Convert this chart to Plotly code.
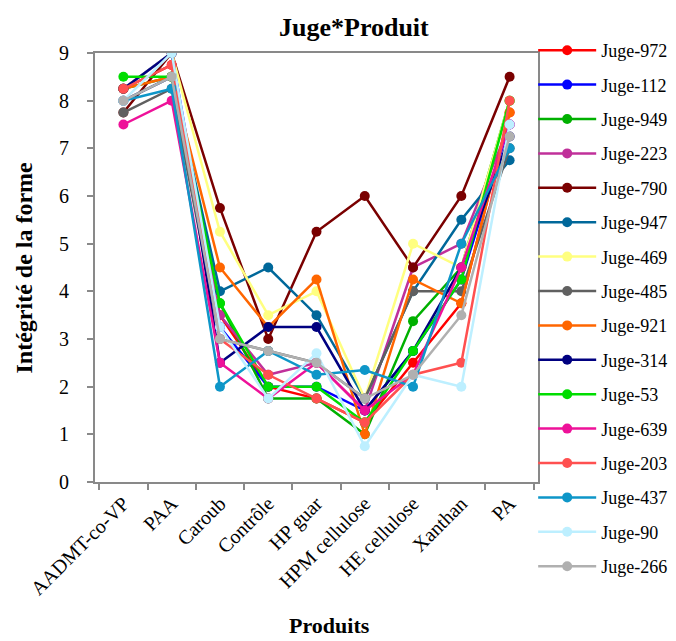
import plotly.graph_objects as go

categories = ["AADMT-co-VP", "PAA", "Caroub", "Contrôle", "HP guar",
              "HPM cellulose", "HE cellulose", "Xanthan", "PA"]

juges = ["Juge-972", "Juge-112", "Juge-949", "Juge-223", "Juge-790", "Juge-947",
         "Juge-469", "Juge-485", "Juge-921", "Juge-314", "Juge-53", "Juge-639",
         "Juge-203", "Juge-437", "Juge-90", "Juge-266"]

juge_972 = [8.25, 8.75, 3.5, 2.0, 1.75, 1.25, 2.5, 3.75, 7.75]
juge_112 = [8.25, 9.0, 3.25, 2.0, 2.0, 1.5, 2.75, 4.25, 7.5]
juge_949 = [8.25, 8.5, 3.75, 1.75, 1.75, 1.0, 3.375, 4.5, 8.0]
juge_223 = [8.0, 8.5, 3.5, 2.25, 2.5, 1.5, 4.5, 5.0, 7.5]
juge_790 = [7.75, 9.0, 5.75, 3.0, 5.25, 6.0, 4.5, 6.0, 8.5]
juge_947 = [8.0, 8.5, 4.0, 4.5, 3.5, 1.75, 4.0, 5.5, 6.75]
juge_469 = [8.25, 9.0, 5.25, 3.5, 4.0, 1.75, 5.0, 4.5, 8.0]
juge_485 = [7.75, 8.25, 3.0, 2.75, 2.5, 1.75, 4.0, 4.0, 7.0]
juge_921 = [8.25, 8.5, 4.5, 3.25, 4.25, 1.0, 4.25, 3.75, 7.75]
juge_314 = [8.25, 9.0, 2.5, 3.25, 3.25, 1.5, 2.75, 4.5, 7.25]
juge_53 = [8.5, 8.5, 3.75, 2.0, 2.0, 1.25, 2.75, 4.25, 8.0]
juge_639 = [7.5, 8.0, 2.5, 1.75, 2.5, 1.5, 2.25, 4.5, 7.5]
juge_203 = [8.25, 8.75, 3.0, 2.25, 1.75, 1.25, 2.25, 2.5, 8.0]
juge_437 = [8.0, 8.25, 2.0, 2.75, 2.25, 2.35, 2.0, 5.0, 7.0]
juge_90 = [8.0, 9.0, 3.25, 1.75, 2.7, 0.75, 2.25, 2.0, 7.5]
juge_266 = [8.0, 8.5, 3.0, 2.75, 2.5, 1.75, 2.25, 3.5, 7.25]

series = [juge_972, juge_112, juge_949, juge_223, juge_790, juge_947, juge_469,
          juge_485, juge_921, juge_314, juge_53, juge_639, juge_203, juge_437,
          juge_90, juge_266]

colors = ["#FF0000", "#0000FF", "#00B000", "#C0309A", "#7A0000", "#00689A",
          "#FFFF80", "#606060", "#FF6600", "#000080", "#00DD00", "#EE1199",
          "#FF5050", "#0E96C8", "#BDEFFF", "#B0B0B0"]

SERIF = "Liberation Serif, Times New Roman, serif"

fig = go.Figure()
for i, (name, vals, col) in enumerate(zip(juges, series, colors)):
    fig.add_trace(go.Scatter(
        x=categories, y=vals, name=name, mode="lines+markers",
        line=dict(color=col, width=2.5),
        marker=dict(color=col, size=10, symbol="circle"),
        legendgroup=name,
    ))

axis_col = "#898989"
L, R, T, B = 87, 130, 45, 167
PW = 676 - L - R
PH = 641 - T - B

fig.update_layout(
    width=676, height=641,
    margin=dict(l=L, r=R, t=T, b=B),
    paper_bgcolor="white", plot_bgcolor="white",
    showlegend=True,
    legend=dict(x=(541 - L) / PW, xanchor="left",
                y=(641 - B - 24) / PH, yanchor="top",
                maxheight=620,
                font=dict(family=SERIF, size=18, color="black"),
                tracegroupgap=8, itemwidth=58, bgcolor="rgba(0,0,0,0)"),
    xaxis=dict(type="category", showgrid=False, zeroline=False,
               showline=True, linecolor=axis_col, linewidth=2, mirror=True,
               ticks="outside", tickson="boundaries", ticklen=6, tickcolor=axis_col,
               tickwidth=2, tickangle=-45, automargin=False,
               tickfont=dict(family=SERIF, size=20, color="black")),
    yaxis=dict(range=[0, 9], dtick=1, showgrid=False, zeroline=False,
               showline=True, linecolor=axis_col, linewidth=2, mirror=True,
               ticks="outside", ticklen=6, tickcolor=axis_col, tickwidth=2,
               automargin=False, ticklabelstandoff=14,
               tickfont=dict(family=SERIF, size=20, color="black")),
    annotations=[
        dict(text="<b>Juge*Produit</b>", xref="paper", yref="paper",
             x=(355 - L) / PW, y=1.0, xanchor="center", yanchor="middle",
             yshift=26, showarrow=False,
             font=dict(family=SERIF, size=26, color="black")),
        dict(text="<b>Intégrité de la forme</b>", xref="paper", yref="paper",
             x=0, xshift=-72, y=0.5, xanchor="center", yanchor="middle",
             textangle=-90, showarrow=False,
             font=dict(family=SERIF, size=24, color="black")),
        dict(text="<b>Produits</b>", xref="paper", yref="paper",
             x=(330 - L) / PW, y=0, xanchor="center", yanchor="middle",
             yshift=-143, showarrow=False,
             font=dict(family=SERIF, size=22, color="black")),
    ],
)

fig.write_html("out.html")
